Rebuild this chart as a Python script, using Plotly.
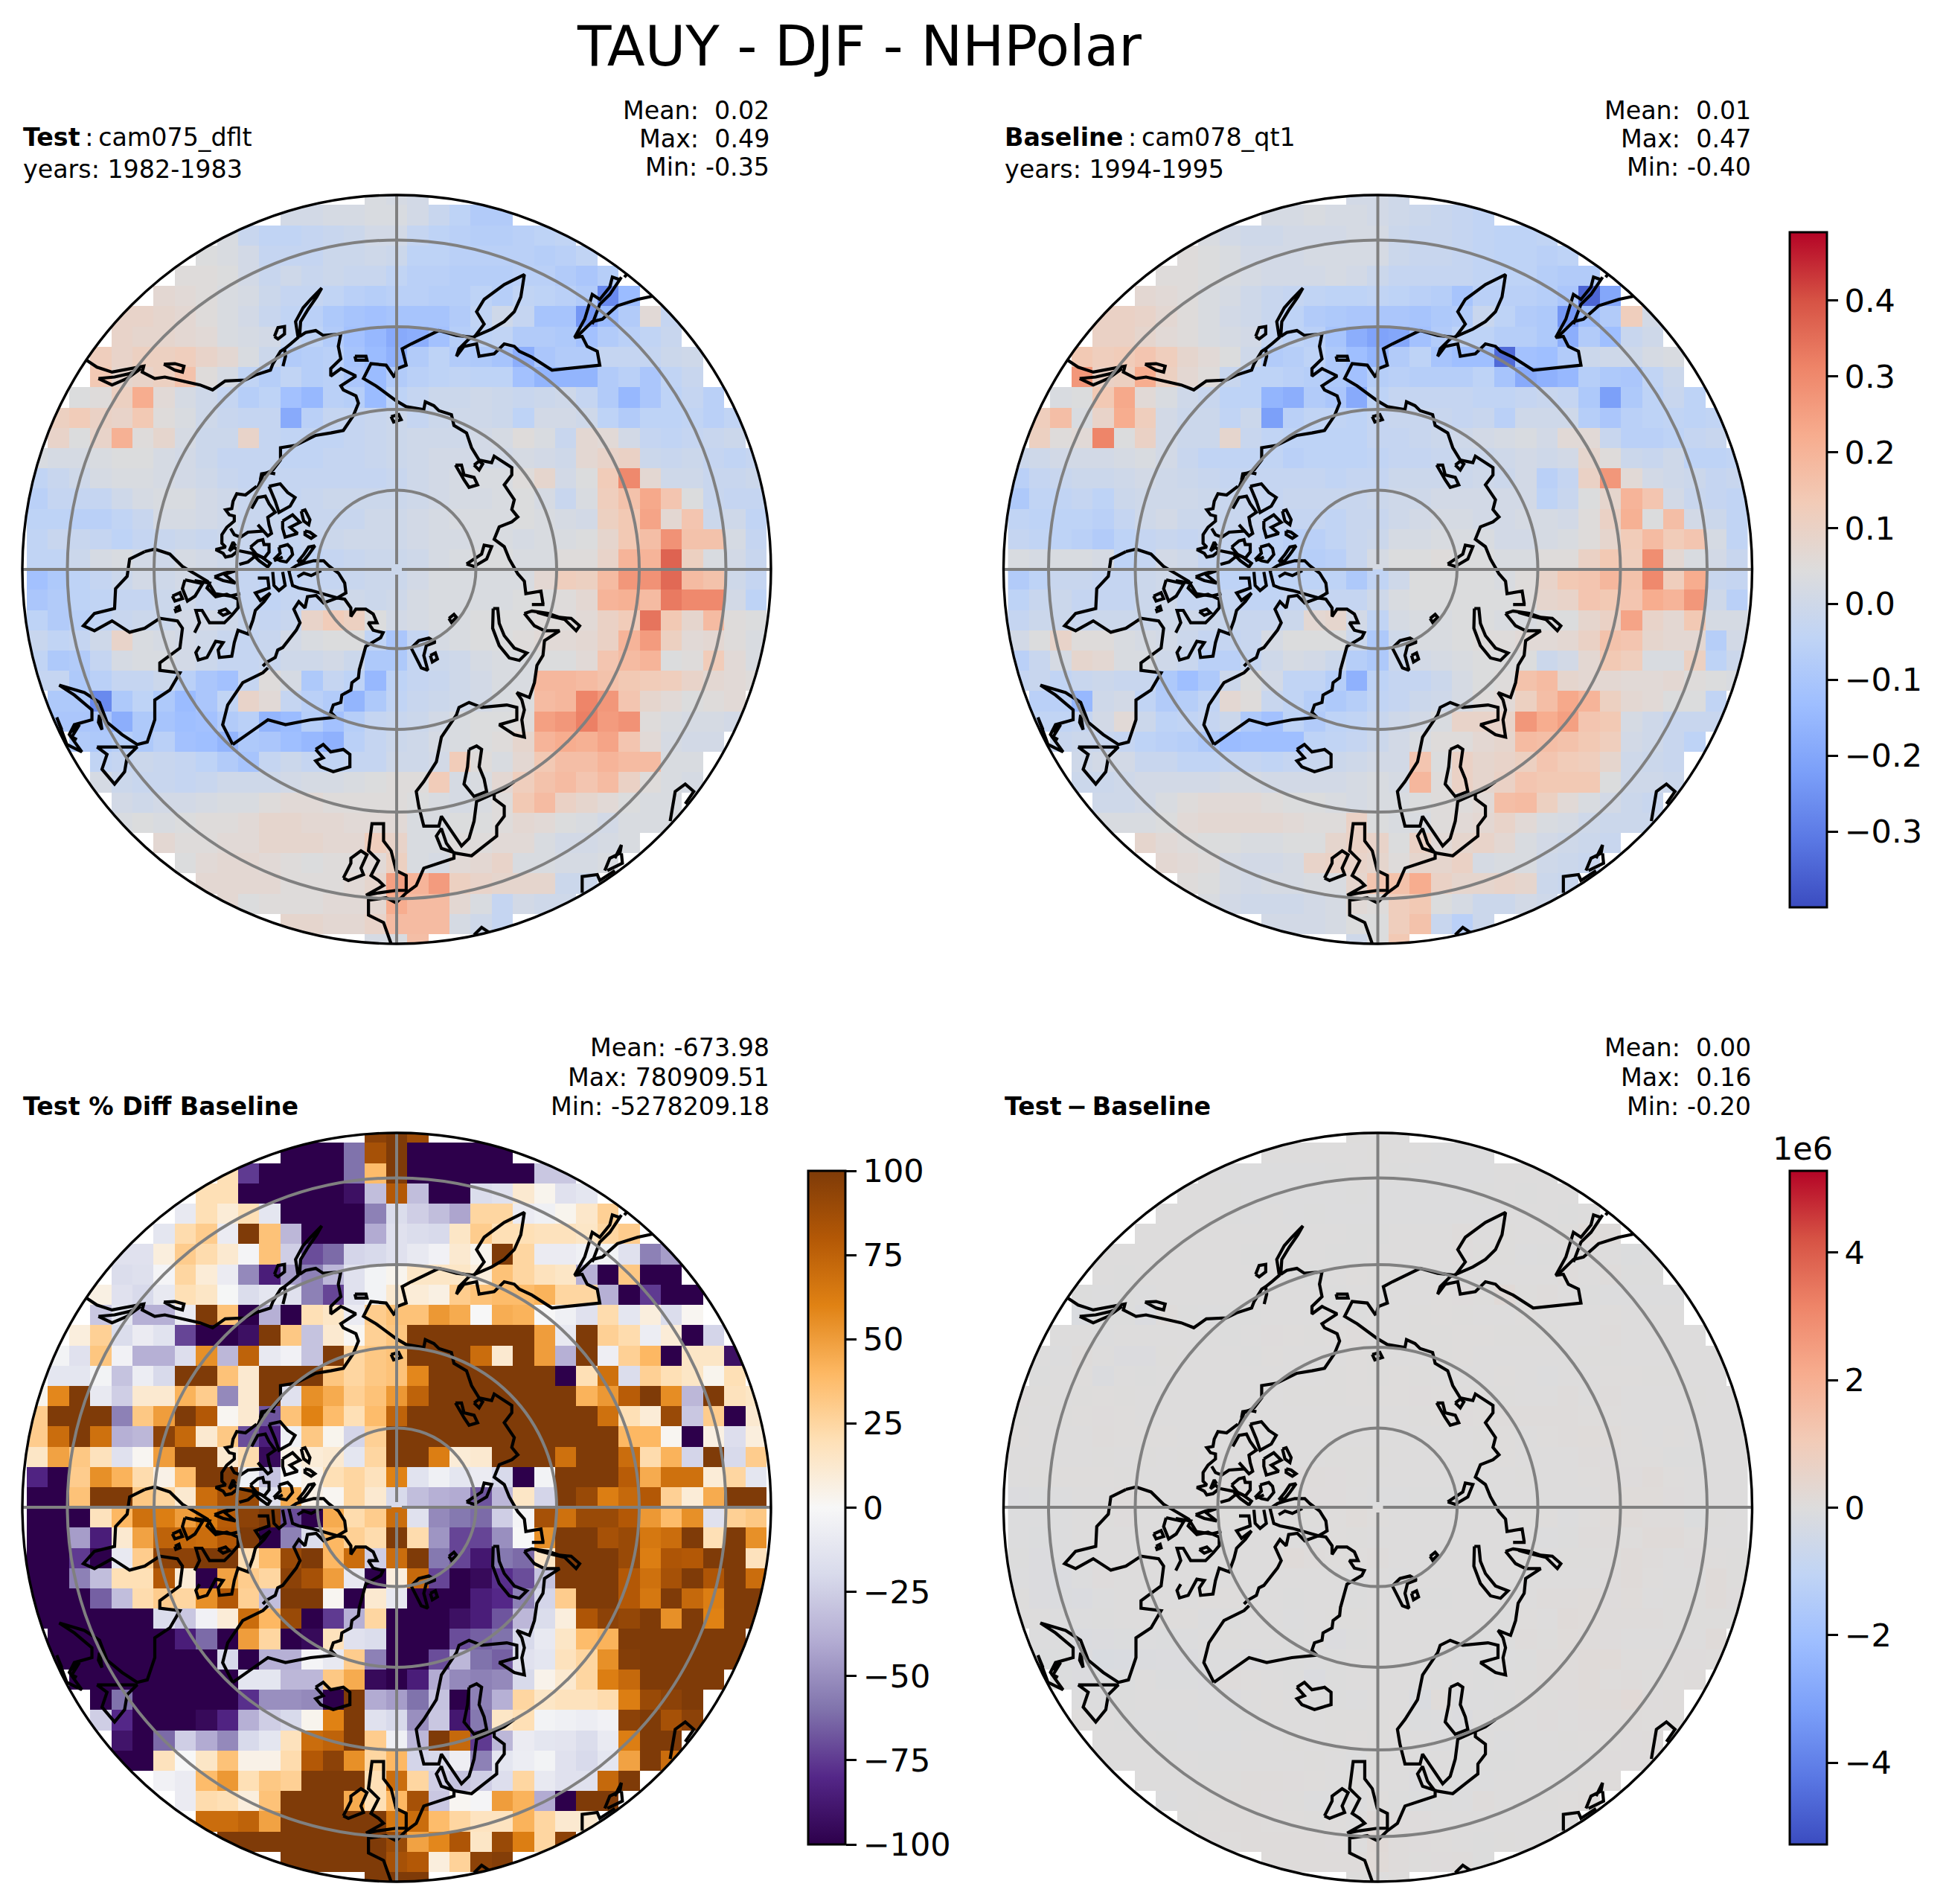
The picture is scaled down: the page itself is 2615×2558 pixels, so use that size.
import numpy as np
import plotly.graph_objects as go

W, H = 2615, 2558
FONT = "DejaVu Sans"

# Half-width (columns either side of the pole) of each data row, top to bottom
HALF_WIDTHS = [1,5,8,9,10,11,13,13,14,14,15,16,16]+[17]*12+[16,16,15,14,14,13,13,11,10,9,8,5,1]

# Test field, hundredths of N/m2, one list per row, west to east
TEST_VALUES = [
[3,2,1],
[1,1,2,2,3,3,1,-2,-5,-8,-8],
[3,-2,-4,-4,-3,-2,-1,1,1,-3,-5,-6,-7,-7,-6,-5,-4],
[4,3,1,-3,-3,-3,-1,-1,0,-1,-5,-5,-6,-6,-6,-6,-7,-6,-4],
[5,5,4,1,-2,0,-2,-1,-2,-2,-4,-6,-6,-7,-7,-7,-6,-6,-8,-10,-7],
[7,6,5,3,2,-1,-3,-3,-4,-6,-7,-6,-6,-7,-7,-5,-7,-4,-5,-6,-8,-27,-14],
[9,9,8,7,5,3,1,-2,-4,-6,-9,-11,-12,-11,-11,-11,-8,-4,0,-3,-11,-11,-24,-14,-8,6,-3],
[9,8,8,7,6,3,2,1,-3,-5,-8,-12,-15,-19,-18,-12,-7,-5,-4,-8,-8,-9,-12,-8,-6,-4,-2],
[12,9,11,11,12,9,7,3,-1,-8,-7,-6,-11,-14,-17,-8,-5,-8,-9,-11,-18,-10,-8,-8,-3,-3,-3,-1,0],
[14,8,9,11,16,5,2,-4,-7,-4,-7,-6,-10,-14,-8,-6,-5,-4,-5,-5,-12,-16,-16,-16,-8,-6,-10,-4,-2],
[4,5,11,22,6,2,0,-3,-7,-5,-12,-15,-6,-7,-14,-5,-3,-1,-1,0,-1,-2,-1,0,-3,-8,-15,-10,-5,-3,-6],
[11,13,10,9,14,5,3,0,-2,-3,-3,-19,-6,-3,-3,-2,-1,-3,-1,0,0,-1,-5,1,1,0,-5,-8,-5,-5,-4,-6,-4],
[9,4,9,21,5,8,2,-1,-1,9,-3,-4,-4,-4,-3,-2,-1,0,0,0,1,2,5,3,-2,7,6,1,-3,-4,-3,-2,-1],
[3,2,2,3,4,4,2,1,-1,-3,-3,-3,-4,-4,-3,-3,-2,-1,0,1,1,1,1,2,1,0,7,9,10,-1,-2,-1,-3,-4,-3],
[-4,-2,0,2,3,3,2,1,0,-2,-3,-3,-3,-3,-3,-3,-3,-2,0,1,2,3,3,5,8,1,4,13,30,7,0,0,-2,-2,-1],
[-6,-3,-3,-3,0,2,3,3,1,0,-2,-2,-3,-2,-1,-1,-1,-1,0,1,2,2,3,4,2,-2,3,12,16,23,15,4,-2,-3,-3],
[-5,-5,-6,-6,-4,-2,2,2,1,0,-2,-2,-3,-2,-2,-2,0,0,1,2,3,3,3,4,3,2,1,11,14,24,7,15,-1,0,-4],
[-4,-2,-2,-3,-5,-3,-2,-1,-2,-1,-2,-2,-3,-2,-1,0,0,0,1,2,2,3,3,2,3,3,4,8,14,17,28,16,16,2,-3],
[-4,-4,-1,2,3,1,0,2,1,0,-2,-4,-4,-4,-3,-2,-1,-1,0,2,3,4,4,3,3,5,5,9,20,20,37,11,3,1,-2],
[-12,-9,-5,-3,-1,1,0,1,-1,-2,-3,-4,-4,-3,-3,-2,-1,-1,1,3,3,3,3,3,7,12,11,18,27,28,36,18,16,0,-3],
[-10,-8,-5,-4,-3,-3,-1,0,-2,-2,-3,-4,-3,-3,-1,0,-1,0,2,3,3,3,3,4,4,5,7,20,21,18,33,30,30,1,-5],
[-5,-8,-6,-4,-2,-1,-1,1,1,0,-2,-3,-2,9,13,11,4,1,2,3,3,4,4,4,5,5,6,10,13,34,14,8,18,5,4],
[-2,-4,-3,0,9,3,2,1,0,-2,-3,-2,1,3,4,4,-4,-10,-3,2,3,4,4,5,6,6,7,10,20,26,11,6,7,5,3],
[-4,-9,-8,-3,2,3,3,1,-1,-3,-3,-2,0,0,1,-1,-9,-9,-3,-1,0,2,3,3,4,4,6,15,18,20,4,5,13,6,3],
[-3,-3,-9,-6,-3,-3,-1,-6,-10,-12,-3,5,2,-9,-3,-5,-15,-5,-3,-2,0,1,3,3,19,19,18,16,14,13,12,9,7,6,5],
[-9,-9,-27,-9,-5,-9,-14,-10,-4,9,6,-3,-6,-8,-16,-9,-4,-2,-1,0,1,3,4,18,19,31,27,15,8,6,4,5,6],
[-10,-10,-10,-18,-9,-11,-13,-12,-8,-6,-16,-14,-7,-12,-7,-3,-2,-1,1,3,4,4,5,25,27,32,26,28,5,3,2,2,1],
[-8,-9,-7,-9,-6,-12,-13,-16,-9,-10,-13,-15,-17,-6,-3,-1,0,2,3,4,5,8,20,22,21,24,15,6,2,1,1],
[-4,-3,-1,-2,-3,-5,-8,-11,-3,-1,-3,-4,-3,-3,0,0,1,13,5,3,7,14,17,17,20,18,18,3,3],
[2,-1,-2,-2,-3,-2,0,0,0,1,2,2,3,4,5,5,13,2,3,7,12,16,18,15,18,10,5,3,2],
[1,0,1,1,2,3,3,5,6,6,5,5,5,5,4,3,2,3,5,14,18,10,8,6,4,3,3],
[3,4,3,4,5,5,6,8,8,7,7,6,6,6,3,3,4,4,5,7,6,4,3,1,3,3,3],
[7,5,5,6,6,8,8,8,7,7,12,9,3,3,5,5,6,6,3,1,1,2,3],
[4,6,7,7,6,5,4,5,5,6,11,3,2,6,7,9,3,3,2,2,3],
[7,7,7,7,5,5,5,6,8,25,20,26,11,9,8,8,8,-1,-1],
[7,4,5,5,5,6,6,7,22,18,18,7,3,-3,1,0,0],
[8,8,7,7,9,18,18,18,2,0,-3],
[2,3,17],
]

# Baseline field, same layout
BASE_VALUES = [
[1,1,0],
[2,2,3,2,2,1,0,-1,-2,-3,-4],
[3,1,0,0,1,1,1,2,2,-1,-2,-2,-3,-4,-5,-5,-4],
[5,4,3,1,1,1,2,2,2,2,-1,-2,-2,-3,-4,-5,-5,-6,-5],
[5,5,4,3,2,1,1,1,2,1,-1,-3,-3,-3,-3,-4,-5,-5,-7,-8,-8],
[7,6,5,3,2,0,-2,-3,-4,-5,-5,-4,-5,-6,-7,-11,-6,-6,-6,-7,-10,-35,-20],
[10,10,9,7,5,3,1,0,-2,-5,-8,-9,-10,-10,-10,-11,-9,-8,-2,-5,-8,-9,-24,-13,-8,12,1],
[10,10,8,6,5,3,2,1,-3,-5,-6,-11,-18,-21,-20,-12,-8,-5,-5,-7,-7,-9,-18,-8,-13,-2,0],
[14,12,13,15,12,8,6,4,0,-8,-7,-5,-9,-13,-16,-8,-5,-11,-13,-13,-34,-12,-13,-8,-1,0,0,2,3],
[27,10,11,22,11,7,5,-2,-5,-5,-6,-7,-9,-12,-7,-6,-7,-7,-7,-5,-11,-19,-17,-15,-7,-9,-10,-4,-1],
[3,4,14,23,6,3,0,-2,-5,-5,-16,-18,-8,-10,-19,-5,-3,-3,-3,-3,-4,-4,-3,-2,-3,-9,-22,-9,-5,-2,-5],
[12,17,3,9,22,12,1,-1,-1,-4,-1,-22,-6,-4,-4,-5,-3,-2,-2,-2,-3,-2,-6,0,0,0,-7,-10,-6,-5,-4,-5,-4],
[11,5,6,31,4,10,1,-1,-1,8,-2,-4,-5,-5,-5,-5,-3,-3,-2,-1,0,1,2,3,1,6,6,-2,-6,-6,-5,-3,-2],
[-1,0,1,1,1,2,3,1,-2,-4,-4,-4,-4,-6,-5,-5,-5,-4,-3,-3,-2,-1,-1,0,1,0,1,8,5,-1,-2,0,-5,-5,-4],
[-6,-3,-2,-1,-1,0,1,0,-1,-2,-3,-3,-3,-3,-3,-4,-3,-3,-1,-1,-1,-1,0,-1,1,-6,-3,10,27,6,1,0,-1,-3,-2],
[-9,-4,-4,-3,-5,-1,0,0,0,-1,-2,-2,-3,-2,-2,-2,-2,-1,0,0,1,1,1,1,1,-5,-2,4,8,20,15,1,-2,-3,-4],
[-4,-5,-5,-5,-6,-3,0,1,-1,-1,-2,-2,-3,-3,-3,-4,-2,-2,0,1,2,2,1,1,2,2,1,5,10,21,4,17,1,-1,-4],
[-3,-4,-5,-6,-8,-5,-3,-2,-3,-2,-3,-3,-5,-6,-6,-4,-2,-1,2,2,3,3,3,1,1,2,3,5,8,13,18,13,15,2,-4],
[3,2,3,3,2,-5,-3,1,0,-3,-3,-4,-5,-6,-7,-6,-2,2,4,4,5,4,4,3,3,5,5,10,14,12,29,7,3,1,-2],
[-8,-5,-2,-2,-3,-3,-1,0,-2,-3,-5,-5,-5,-5,-5,-5,-9,-4,0,4,4,4,4,3,5,9,14,15,19,16,30,12,22,-2,-3],
[-5,-2,-1,-3,-3,-3,-1,0,-3,-3,-3,-4,-4,-3,-2,-3,-3,0,3,4,4,4,4,4,5,8,9,15,14,15,22,20,27,0,-6],
[-3,-1,-1,-2,-1,-1,-1,0,0,-1,-2,-2,-2,-1,7,8,1,-4,2,3,3,4,4,3,3,4,4,8,10,24,9,7,14,2,2],
[1,4,9,5,5,3,2,1,-1,-3,-3,-2,2,4,4,4,-1,-9,0,3,3,4,5,5,6,6,7,10,16,15,8,7,7,-7,1],
[-6,-2,2,8,7,3,3,0,-2,-6,-6,-3,0,2,1,-1,-7,-9,-1,1,2,3,4,4,4,-1,1,7,14,12,3,3,11,-5,-1],
[-3,-2,-4,-2,-1,-2,-2,-9,-13,-9,-1,4,1,-4,-4,-7,-17,-5,-3,-3,-1,2,4,5,16,18,8,7,7,6,6,7,5,4,3],
[-6,-6,-15,0,1,-4,-8,-7,-4,7,5,-2,-4,-7,-9,-7,-4,-3,-1,0,2,5,6,11,17,23,20,11,7,6,4,4,-4],
[-4,-4,-3,1,6,-1,-5,-4,-3,-1,-9,-12,-5,-8,-5,-4,-2,0,1,3,9,9,9,27,22,25,15,14,2,0,-2,-2,-2],
[-2,-1,-2,-3,-5,-6,-7,-9,-14,-13,-13,-13,-5,-4,-3,-1,1,3,5,5,7,8,18,17,16,14,12,1,0,-2,-5],
[0,1,1,-2,-2,-4,-4,-3,-3,-4,-3,-2,-1,0,1,1,15,4,10,8,9,11,15,13,12,8,0,-1,-2],
[-1,-1,0,1,1,1,1,2,2,1,1,1,1,2,3,2,19,5,10,8,10,15,14,14,14,4,0,0,-1],
[0,0,1,3,5,6,6,6,5,4,4,3,2,3,3,4,5,5,6,17,18,11,6,3,1,-1,-2],
[3,3,3,4,6,7,7,7,7,6,5,5,10,4,3,3,5,6,7,9,6,3,2,0,-1,-1,-1],
[8,6,5,4,4,3,3,4,4,8,10,9,4,10,6,8,9,7,3,1,0,-1,-2],
[7,6,5,2,1,1,2,9,10,9,8,5,8,8,10,2,3,3,0,-1,-2],
[5,4,2,1,2,2,3,3,8,15,16,22,10,8,8,9,8,-1,-2],
[3,1,0,0,0,1,2,6,5,12,14,4,2,-1,-1,1,0],
[1,1,1,2,4,4,12,16,-2,-6,-1],
[0,4,14],
]

# Percent difference, same layout
PCT_VALUES = [
[95,100,88],
[-100,-100,-100,-60,85,100,-100,-100,-100,-100,-100],
[20,-75,-100,-100,-100,-100,-60,38,100,-100,-100,-100,-100,-100,-100,-28,-28],
[20,20,-100,-100,-100,-100,-100,-92,-32,80,-32,-100,-100,-18,-15,12,3,-15,-12],
[-10,20,10,20,-12,-100,-100,-100,-100,-55,-18,-25,-32,-42,25,25,-8,-5,3,14,28],
[-12,22,30,-8,100,35,-35,-100,-100,-100,-40,-15,-18,-20,15,30,20,20,18,18,15,25,30],
[-15,-15,8,30,22,12,-2,35,-25,-70,-62,-22,-20,-15,-10,-4,12,3,100,25,-8,-8,-5,-3,-15,-55,-45],
[-18,-16,-2,25,10,-8,-52,-85,-45,-55,-35,-15,-3,3,15,15,15,8,35,25,18,15,-38,-100,32,-100,-100],
[6,-15,-20,-10,20,15,-1,-18,-12,-15,-55,-72,-15,-3,12,10,6,30,35,38,38,42,25,25,-38,-100,-75,-100,-100],
[-28,-12,-38,-38,-8,100,35,-100,-38,-100,20,15,-8,30,35,35,52,45,0,44,42,0,-5,-15,22,-12,8,-18,2],
[8,28,-18,-8,-14,-72,-100,-100,-92,100,32,-30,12,2,28,33,100,100,100,100,100,100,50,-10,100,28,22,-7,10,-100,-22],
[-3,-15,33,-4,-38,-38,-17,55,-35,75,-10,-4,-30,100,25,32,35,100,100,100,70,12,100,50,-38,100,-6,28,40,-100,15,15,-92],
[-12,-12,-3,-30,-7,-20,100,100,35,12,100,100,100,33,25,32,35,58,100,100,100,100,100,100,-100,20,68,-18,28,20,15,3,20],
[3,58,100,-10,-25,12,12,42,30,-52,12,100,-15,55,45,28,35,52,75,100,100,100,100,100,100,100,42,52,78,100,56,-35,100,18,15],
[30,100,100,100,-55,32,50,100,80,2,12,-68,35,60,38,20,38,75,100,100,100,100,100,100,100,100,100,68,20,10,90,-28,30,-100,12],
[30,70,100,68,-38,-35,95,72,12,32,-70,-85,-5,32,3,-22,28,100,100,100,100,100,100,100,100,100,100,100,40,40,2,-100,6,-17,8],
[15,48,32,18,-15,2,50,100,100,12,22,-95,5,10,12,-12,25,100,100,62,10,12,100,100,100,68,100,100,70,22,42,-22,100,-20,30],
[-82,-100,30,55,42,22,5,38,100,100,-5,-30,0,5,20,25,18,60,-14,-5,-12,-8,-20,-100,-3,100,100,100,78,45,68,68,10,25,-12],
[-100,-100,35,100,100,32,25,12,70,85,90,-15,45,5,2,25,12,-20,-32,-38,-40,-68,-35,15,-22,100,90,62,72,80,28,10,45,100,100],
[-100,-100,-100,18,40,68,62,50,62,78,95,100,-70,-100,45,22,30,70,-15,-52,-58,-62,-25,-2,85,68,90,90,80,52,38,55,-15,28,32],
[-100,-100,-45,-85,12,48,75,72,70,80,100,-100,-55,-18,40,28,22,100,22,-48,-72,-72,-50,0,55,100,100,85,90,65,70,100,20,100,55],
[-100,-100,-75,-100,-10,30,95,95,100,100,20,38,90,100,40,70,-25,70,100,-58,-72,-88,-58,-62,15,100,100,100,90,62,82,80,100,100,18],
[-100,-100,-55,-32,20,20,80,10,-100,48,30,25,95,85,50,-10,-100,8,72,-72,-100,-95,-78,-70,-30,100,100,100,80,68,85,100,82,100,70],
[-100,-100,-100,-65,-32,22,30,25,55,80,28,-32,100,100,2,-100,12,-10,-100,-100,-100,-85,-80,-55,-22,30,100,100,80,65,100,72,62,100,100],
[-100,-100,-100,-100,-100,-100,-18,-28,-4,10,70,40,90,-100,-75,-38,25,-100,-100,-100,-92,-85,-68,-35,-18,8,82,95,92,100,55,100,60,100,100],
[-100,-100,-100,-100,-100,-100,-85,-62,-100,50,25,-100,-95,18,-15,-18,-100,-100,-100,-70,-65,-60,-20,-10,15,38,42,100,100,100,100,100,100],
[-100,-100,-100,-100,-100,-100,-100,-100,-20,-100,-38,-38,-2,-10,30,-55,-100,-100,-70,-35,-60,-65,-15,-12,18,25,55,98,100,100,100,100,100],
[-100,-100,-100,-100,-100,-100,-100,-100,-12,-12,-35,-35,32,45,-95,-100,-85,-40,-52,-55,-52,-20,4,12,25,62,72,100,100,100,100],
[-100,-60,-100,-100,-100,-100,-100,-78,-50,-50,-52,-100,100,-40,-45,-60,-30,-100,-55,-38,25,15,18,18,22,62,90,95,100],
[-25,-80,-100,-100,-100,-95,-82,-38,-25,-20,3,60,100,-15,-20,-50,-28,-88,-58,15,20,-3,-5,-7,-4,95,100,85,95],
[-90,-100,-62,-25,-40,-52,-20,-12,18,70,75,100,30,-5,-35,100,72,-75,-35,-8,-12,-13,-18,-9,62,100,100],
[-100,-100,18,0,15,35,5,5,22,80,95,55,25,40,-22,-20,-6,-55,-12,-7,-3,-15,-20,-12,48,100,70],
[-4,-8,38,52,20,32,28,100,100,100,20,70,25,-25,-30,-25,-17,25,-10,-15,-15,72,100],
[-8,22,20,8,35,100,100,100,45,20,40,85,-28,2,-2,50,42,-40,-100,100,100],
[70,70,75,48,100,100,100,100,100,65,70,38,25,17,17,42,25,12,12],
[100,100,100,100,100,100,100,100,90,48,58,82,15,90,62,25,95],
[100,100,100,100,100,85,80,8,27,95,98],
[100,100,100],
]

# Colour bar ticks
TICKS_FIELD = [-0.3,-0.2,-0.1,0.0,0.1,0.2,0.3,0.4]
TICKS_PCT = [-100,-75,-50,-25,0,25,50,75,100]
TICKS_DIFF = [-4,-2,0,2,4]

TITLE = "TAUY - DJF - NHPolar"
STATS = {
    "test": ["Mean:\u00a0\u00a00.02", "Max:\u00a0\u00a00.49", "Min: -0.35"],
    "base": ["Mean:\u00a0\u00a00.01", "Max:\u00a0\u00a00.47", "Min: -0.40"],
    "pct": ["Mean: -673.98", "Max: 780909.51", "Min: -5278209.18"],
    "diff": ["Mean:\u00a0\u00a00.00", "Max:\u00a0\u00a00.16", "Min: -0.20"],
}

COAST_WIDE = [
[(150,365),(175,382),(205,392),(240,385),(268,380),(265,392),(290,405),(310,402),(345,410),(380,418),(405,428),(430,410),(470,408),(490,398),(520,388),(525,375),(540,350),(548,345),(560,335),(575,322),(570,290),(585,262),(600,245),(622,222),(612,240),(595,265),(580,290),(578,320),(590,312),(610,308),(625,318),(660,315),(655,340),(660,365),(640,385),(640,400),(660,385),(690,400),(660,420),(665,428),(690,440),(695,455),(685,480),(665,510),(640,515),(610,520),(570,540),(540,545),(540,570),(525,590),(505,600),(495,625)],
[(178,405),(205,418),(235,405),(262,385),(240,395),(210,402),(178,405)],
[(308,376),(330,375),(348,380),(345,392),(330,388),(308,376)],
[(528,320),(535,302),(548,300),(548,315),(535,325),(528,320)],
[(548,345),(550,360),(545,380)],
[(688,360),(710,360),(712,368),(690,368),(688,360)],
[(767,403),(772,385),(790,378),(782,345),(800,335),(855,308),(890,318),(925,322),(945,295),(930,270),(945,245),(965,230),(985,215),(1025,195),(1018,240),(1005,270),(985,290),(960,305),(915,325),(895,345),(890,360),(905,340),(930,335),(935,360),(965,355),(985,335),(1005,340),(1015,350),(1040,362),(1080,388),(1175,378),(1170,350),(1150,340),(1140,320),(1125,322),(1145,285),(1160,235),(1175,245),(1195,220),(1200,200),(1215,205)],
[(1128,322),(1160,290),(1180,285),(1210,258),(1250,245),(1283,238)],
[(1160,295),(1175,255),(1195,235),(1218,200)],
[(1224,200),(1232,190)],
[(767,403),(750,378),(720,375),(705,405),(730,420),(770,450),(790,462),(825,468),(828,452),(845,460),(855,470),(880,478),(885,500),(910,515),(920,545),(935,570),(960,575),(965,562),(1000,585),(1000,600),(985,620),(1005,650),(1000,670),(1012,685),(1000,695),(975,705),(965,730),(985,745),(995,770),(1012,800),(1025,815),(1028,840),(1058,835),(1062,860)],
[(760,482),(775,478),(780,488),(765,493),(760,482)],
[(888,580),(900,580),(905,600),(925,605),(932,620),(915,625),(905,610),(888,580)],
[(925,580),(935,572),(942,578),(935,590),(925,580)],
[(910,780),(940,760),(945,742),(960,745),(950,770),(925,785),(910,780)],
[(875,890),(885,882),(890,888),(880,898),(875,890)],
[(800,950),(815,935),(835,930),(848,938),(830,945),(825,965),(833,995),(820,990),(800,950)],
[(838,965),(848,960),(852,972),(842,978),(838,965)],
[(963,870),(972,870),(975,900),(985,925),(1005,950),(1030,960),(1015,975),(995,970),(975,945),(962,910),(963,870)],
[(1040,862),(1065,862)],
[(1025,880),(1040,875),(1072,880),(1095,888),(1118,890),(1135,905),(1128,915),(1105,892),(1075,885),(1050,878)],
[(1025,880),(1045,905),(1065,915),(1095,915),(1065,935),(1062,965),(1050,985),(1045,1020),(1035,1050),(1010,1040),(1020,1055),(1025,1075),(1020,1095),(1025,1130),(1005,1125),(975,1105),(1010,1095),(1010,1070),(990,1065),(940,1070),(915,1060),(895,1070),(890,1085),(860,1130),(850,1180),(825,1220),(810,1240),(815,1270),(825,1310),(855,1310),(860,1290),(880,1320),(900,1350),(915,1335),(925,1300),(930,1260),(965,1245),(985,1235),(1005,1220)],
[(965,1245),(965,1255),(985,1270),(985,1290),(970,1310),(970,1330),(945,1350),(920,1370),(890,1365),(860,1355),(850,1330),(860,1315),(870,1345),(885,1365),(885,1375),(855,1385),(825,1395),(810,1430),(790,1445),(770,1465),(750,1455),(715,1460),(715,1490),(745,1505),(760,1548)],
[(710,1450),(735,1445),(770,1440),(790,1440),(790,1410),(770,1400),(760,1360),(745,1340),(745,1305),(722,1305),(715,1360),(735,1380),(720,1410),(735,1420),(745,1430),(710,1450)],
[(665,1415),(680,1385),(680,1375),(700,1360),(712,1368),(700,1395),(705,1408),(675,1420),(665,1415)],
[(915,1155),(930,1148),(940,1155),(935,1190),(945,1215),(950,1240),(925,1250),(905,1225),(912,1190),(915,1155)],
[(610,1155),(625,1145),(640,1160),(665,1155),(678,1165),(678,1190),(645,1200),(620,1190),(610,1178),(625,1172),(610,1155)],
[(445,1145),(425,1105),(435,1065),(465,1020),(505,1000),(515,990)],
[(697,991),(695,1010),(682,1020),(680,1035),(662,1045),(660,1060),(645,1065),(640,1080),(650,1090),(600,1095),(550,1105),(515,1095),(480,1120),(445,1145)],
[(270,755),(240,770),(235,805),(212,830),(210,870),(170,880),(148,905),(170,915),(205,895),(240,918),(270,910),(300,890),(335,895),(345,910),(340,950),(320,965),(300,980),(300,995),(340,1000),(320,1035),(290,1055),(290,1095),(275,1140),(255,1145),(225,1125),(195,1100),(180,1060),(150,1040),(100,1025),(130,1045),(165,1075),(165,1095),(130,1105),(120,1125),(145,1160),(115,1145),(95,1090),(105,1115)],
[(180,1085),(185,1115),(178,1100),(180,1085)],
[(125,1120),(132,1110),(140,1105),(125,1130),(135,1135)],
[(175,1150),(195,1165),(185,1195),(210,1225),(230,1200),(235,1170),(255,1150),(205,1150),(175,1150)],
[(270,755),(290,750),(320,760),(345,785),(370,800),(395,815),(410,840),(440,845),(460,840)],
[(325,845),(340,838),(345,850),(330,855),(325,845)],
[(330,870),(338,866),(340,873),(332,876),(330,870)],
[(350,812),(385,820),(370,845),(355,855),(345,830),(350,812)],
[(1315,1300),(1325,1240),(1345,1225),(1362,1240),(1345,1265)],
[(1140,1445),(1140,1412),(1170,1408),(1175,1420),(1205,1400)],
[(1185,1400),(1195,1375),(1215,1365),(1218,1348),(1205,1375)],
[(1190,1400),(1220,1385),(1218,1365)],
[(925,1530),(940,1515),(955,1525)],
]
COAST_DETAIL = [
[(265,75),(270,50),(300,45),(325,50)],
[(250,100),(205,135),(170,130),(155,160),(150,190),(125,195),(140,215),(160,220),(160,240),(130,265),(110,295),(110,330),(125,345),(85,355),(115,370),(125,385),(150,380),(175,360),(160,345),(140,360),(155,325),(165,340)],
[(300,100),(345,90),(375,125),(405,145),(385,180),(340,205),(325,160),(300,100)],
[(230,190),(255,145),(285,140),(300,170),(325,205),(295,225),(300,255),(310,290),(295,300),(255,255)],
[(145,270),(160,295),(185,305),(215,285),(280,280)],
[(225,345),(255,320),(275,315),(280,335),(300,335),(300,365),(280,390),(250,375),(225,345)],
[(180,360),(230,370),(270,385),(305,410),(295,425),(260,400),(235,375)],
[(180,415),(215,405),(240,385)],
[(355,240),(395,215),(425,245),(385,265),(415,290),(365,305),(355,270),(355,240)],
[(430,200),(445,195),(465,235),(460,255),(440,240),(430,200)],
[(445,280),(465,285),(485,300),(470,310),(445,295),(445,280)],
[(340,345),(375,335),(390,350),(395,375),(370,405),(345,400),(325,390),(345,370),(340,345)],
[(415,405),(440,375),(460,345),(485,340),(460,375),(440,400),(415,405)],
[(320,400),(355,385)],
[(440,410),(480,400),(520,400),(540,420),(580,450),(605,490),(610,530),(575,550),(540,540),(510,530),(470,520),(420,510),(395,500),(380,440),(410,420),(440,410)],
[(415,465),(440,450),(470,460),(510,440)],
[(315,445),(320,500),(340,520),(365,500),(355,445)],
[(255,470),(295,470),(300,510),(245,530),(265,560),(305,530),(280,565),(245,600),(235,640),(215,695),(175,680),(160,730),(150,785),(100,790),(95,760),(115,730),(85,725),(50,790),(15,800),(5,770),(20,745)],
[(80,465),(120,450),(165,440),(120,455),(165,490),(115,480),(80,465)],
[(0,480),(60,490),(50,510),(85,545),(130,535),(175,555),(175,590),(150,620),(120,650),(60,650),(30,600),(5,600),(20,650),(0,690)],
[(95,605),(125,595),(140,610),(115,620),(95,605)],
[(275,825),(290,810),(325,790),(335,760),(355,750),(410,680),(425,650),(400,595),(420,565),(445,590),(455,545),(490,540),(520,570),(575,550),(605,555),(630,590),(630,625),(650,595),(690,595),(720,615),(735,650),(700,650),(720,680),(760,690),(750,710),(690,745),(665,835)],
]

COOLWARM = ["#3b4cc0","#5a78e4","#7b9ff9","#9ebeff","#c0d4f5","#dddcdc","#f2cbb7","#f7ac8e","#ee8468","#d65244","#b40426"]
PUOR_R = ["#2d004b","#542788","#8073ac","#b2abd2","#d8daeb","#f7f7f7","#fee0b6","#fdb863","#e08214","#b35806","#7f3b08"]

# Layout in page pixels
R = 503.0; PAD = 5.0
COL_W, ROW_H = 28.4, 27.2
CENTERS = {"test": (533, 765), "base": (1851.5, 765), "pct": (533, 2025), "diff": (1851.5, 2025)}
AX = {"test": ("x", "y"), "base": ("x2", "y2"), "pct": ("x3", "y3"), "diff": ("x4", "y4")}
RINGS = [106.5, 215, 326, 442.5]


def scale(stops):
    return [[k / (len(stops) - 1), c] for k, c in enumerate(stops)]


def grid(rows, factor=1.0):
    bad = [(k, len(r), 2 * w + 1) for k, (r, w) in enumerate(zip(rows, HALF_WIDTHS)) if len(r) != 2 * w + 1]
    assert not bad and len(rows) == 38, f"row length mismatch: {bad} rows={len(rows)}"
    out = []
    for r, w in zip(rows, HALF_WIDTHS):
        pad = [None] * (17 - w)
        out.append(pad + [v * factor for v in r] + pad)
    return out


test = grid(TEST_VALUES, 0.01)
base = grid(BASE_VALUES, 0.01)
pct = grid(PCT_VALUES)
diff = [[None if a is None else a - b for a, b in zip(ra, rb)] for ra, rb in zip(test, base)]

xc = [i * COL_W for i in range(-17, 18)]
yc = [(18.5 - r) * ROW_H for r in range(38)]

cx, cy = [], []
for line in COAST_WIDE:
    cx += [(p[0] - 771) / 1.48 for p in line] + [None]
    cy += [-(p[1] - 791) / 1.505 for p in line] + [None]
for line in COAST_DETAIL:
    cx += [(p[0] - 814.5) / 3 for p in line] + [None]
    cy += [-(p[1] - 435) / 3 for p in line] + [None]


def cbar(left, top, height, ticks, text=None):
    d = dict(x=left / W, xanchor="left", xpad=0, y=1 - (top + height / 2) / H, yanchor="middle", ypad=0,
             len=height, lenmode="pixels", thickness=50, thicknessmode="pixels",
             outlinewidth=3, outlinecolor="black", ticks="outside", ticklen=14, tickwidth=3, tickcolor="black",
             tickfont=dict(family=FONT, size=43, color="black"), tickmode="array", tickvals=ticks,
             ticktext=text if text else None)
    return d


fig = go.Figure()
SPEC = [
    ("test", test, COOLWARM, -0.40, 0.49, None),
    ("base", base, COOLWARM, -0.40, 0.49, cbar(2405, 312, 907, TICKS_FIELD, [f"{t:.1f}".replace("-", "\u2212") for t in TICKS_FIELD])),
    ("pct", pct, PUOR_R, -100, 100, cbar(1086, 1573, 905, TICKS_PCT, [f"{t}".replace("-", "\u2212") for t in TICKS_PCT])),
    ("diff", diff, COOLWARM, -5.278, 5.278, cbar(2405, 1573, 905, TICKS_DIFF, [f"{t}".replace("-", "\u2212") for t in TICKS_DIFF])),
]

th = np.linspace(0, 2 * np.pi, 361)
L = R + PAD
mask = f"M{-L},{-L} L{L},{-L} L{L},{L} L{-L},{L} Z M" + " L".join(f"{R*np.cos(t):.2f},{R*np.sin(t):.2f}" for t in th[:-1]) + " Z"
shapes = []
layout = {}
for name, z, stops, zmin, zmax, cb in SPEC:
    xa, ya = AX[name]
    fig.add_trace(go.Heatmap(x=xc, y=yc, z=z, colorscale=scale(stops), zmin=zmin, zmax=zmax, zsmooth=False,
                             showscale=cb is not None, colorbar=cb, hoverongaps=False, xaxis=xa, yaxis=ya))
    fig.add_trace(go.Scatter(x=cx, y=cy, mode="lines", line=dict(color="black", width=4.2), showlegend=False,
                             hoverinfo="skip", xaxis=xa, yaxis=ya))
    px, py = CENTERS[name]
    xk = "xaxis" + xa[1:]
    yk = "yaxis" + ya[1:]
    layout[xk] = dict(domain=[(px - L) / W, (px + L) / W], range=[-L, L], visible=False, fixedrange=True, anchor=ya)
    layout[yk] = dict(domain=[1 - (py + L) / H, 1 - (py - L) / H], range=[-L, L], visible=False, fixedrange=True, anchor=xa)
    shapes.append(dict(type="path", path=mask, xref=xa, yref=ya, fillcolor="white", line=dict(width=0), layer="above"))
    grey = dict(color="#808080", width=4)
    for r in RINGS:
        shapes.append(dict(type="circle", x0=-r, x1=r, y0=-r, y1=r, xref=xa, yref=ya, line=grey, layer="above"))
    for sx, sy in [(1, 0), (-1, 0), (0, 1), (0, -1)]:
        shapes.append(dict(type="line", x0=sx * 7, y0=sy * 7, x1=sx * R, y1=sy * R, xref=xa, yref=ya, line=grey, layer="above"))
    shapes.append(dict(type="circle", x0=-R, x1=R, y0=-R, y1=R, xref=xa, yref=ya, line=dict(color="black", width=3.4), layer="above"))


def text(x, y, s, size=33.3, anchor="left"):
    return dict(x=x / W, y=1 - y / H, xref="paper", yref="paper", text=s, showarrow=False, xanchor=anchor, yanchor="middle",
                align=anchor, font=dict(family=FONT, size=size, color="black"))


ann = [text(1154, 63, TITLE, 74.5, "center")]
for name, right, ys in [("test", 1036, (148, 187, 225)), ("base", 2355, (148, 187, 225)),
                        ("pct", 1036, (1408, 1447, 1486)), ("diff", 2355, (1408, 1447, 1486))]:
    for s, y in zip(STATS[name], ys):
        ann.append(text(right, y, s, 33.3, "right"))
ann += [
    text(29, 185, "<b>Test</b>\u2009:\u2009cam075_dflt"),
    text(29, 227, "years: 1982-1983"),
    text(1348, 185, "<b>Baseline</b>\u2009:\u2009cam078_qt1"),
    text(1348, 227, "years: 1994-1995"),
    text(29, 1486, "<b>Test % Diff Baseline</b>"),
    text(1348, 1486, "<b>Test\u2009\u2212\u2009Baseline</b>"),
    text(2380, 1543, "1e6", 43),
]

fig.update_layout(width=W, height=H, margin=dict(l=0, r=0, t=0, b=0), paper_bgcolor="white", plot_bgcolor="white",
                  showlegend=False, shapes=shapes, annotations=ann, **layout)
fig.write_html("out.html", post_script="document.body.style.margin='0';document.body.style.overflow='hidden';", config={"displayModeBar": False})
